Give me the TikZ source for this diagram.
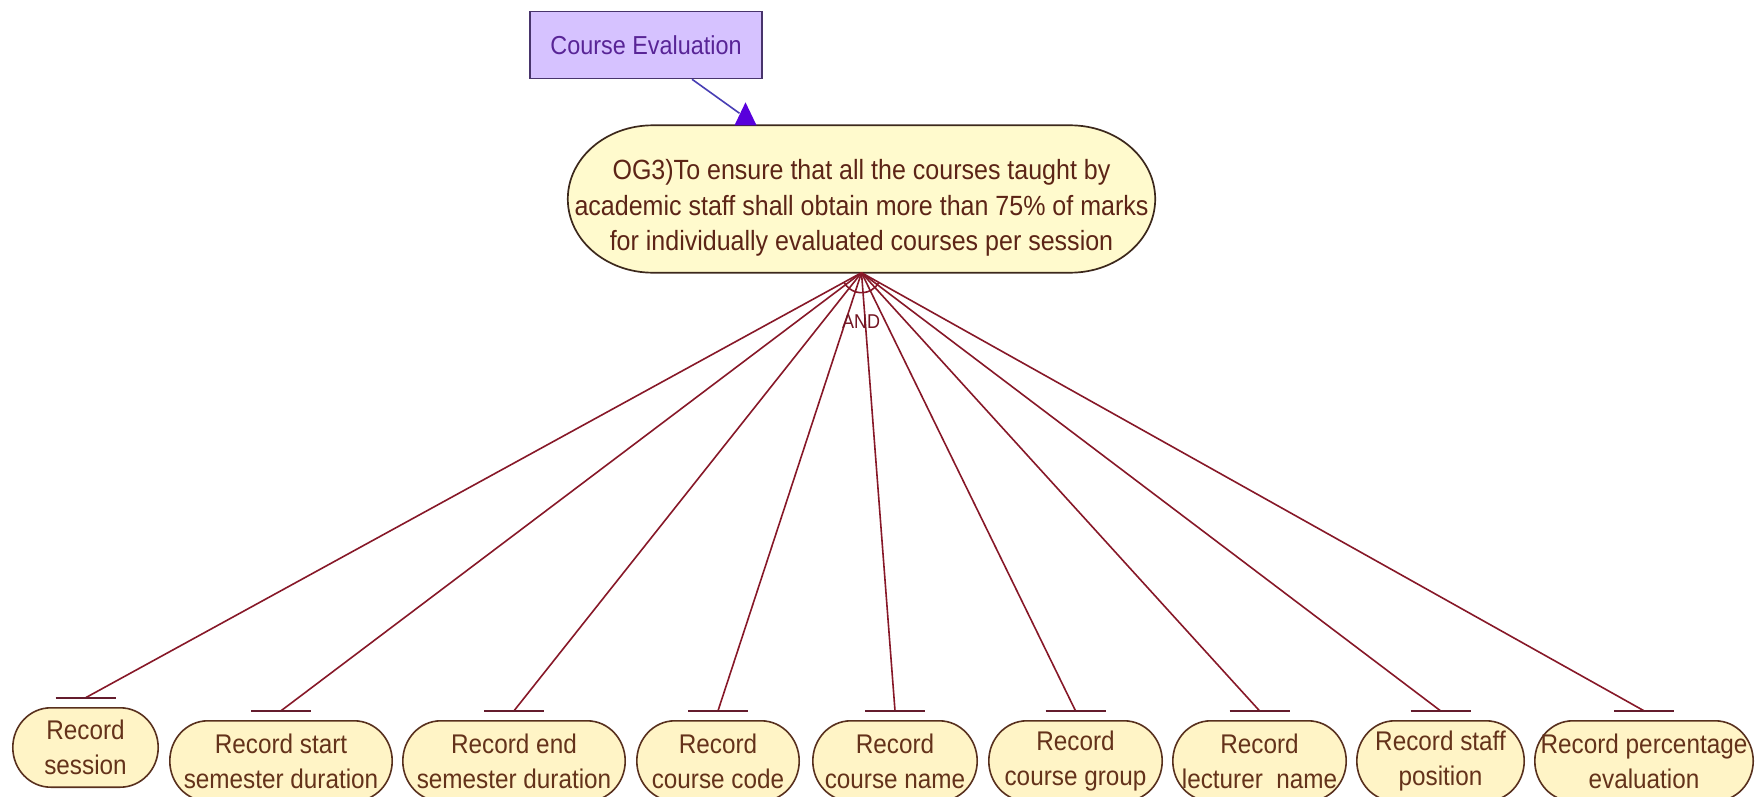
\documentclass[tikz,border=0pt]{standalone}
\usepackage{fontspec}
\setmainfont{Liberation Sans}
\newfontfamily\narrowsans[FakeStretch=0.9]{Liberation Sans}
\usetikzlibrary{calc}
\pgfdeclarelayer{back}
\pgfsetlayers{back,main}

\definecolor{goalfill}{RGB}{255,250,205}
\definecolor{leaffill}{RGB}{255,244,198}
\definecolor{goalline}{RGB}{60,40,28}
\definecolor{leafline}{RGB}{88,48,30}
\definecolor{goaltext}{RGB}{92,36,22}
\definecolor{leaftext}{RGB}{100,50,26}
\definecolor{cefill}{RGB}{214,194,255}
\definecolor{celine}{RGB}{72,52,108}
\definecolor{cetext}{RGB}{88,36,150}
\definecolor{celink}{RGB}{72,62,180}
\definecolor{cehead}{RGB}{88,0,220}
\definecolor{andline}{RGB}{135,24,40}
\definecolor{barline}{RGB}{100,28,45}

\tikzset{
  goalbox/.style={minimum width=587pt, minimum height=147pt, inner sep=0pt},
  goallabel/.style={inner sep=0pt, align=center, text=goaltext,
    font=\narrowsans\fontsize{27.8}{35.5}\selectfont},
  leafbox/.style={minimum height=#1, inner sep=0pt, align=center,
    text=leaftext, font=\narrowsans\fontsize{27}{35}\selectfont},
  goalshape/.style={fill=goalfill, draw=goalline, line width=1.7pt},
  leafshape/.style={fill=leaffill, draw=leafline, line width=1.6pt},
  cebox/.style={draw=celine, fill=cefill, line width=1.5pt,
    minimum width=232pt, minimum height=67pt, inner sep=0pt,
    text=cetext, font=\narrowsans\fontsize{26}{30}\selectfont},
  andlink/.style={draw=andline, line width=1.6pt},
  tbar/.style={draw=barline, line width=2pt},
  celinkline/.style={draw=celink, line width=1.6pt},
  andlabel/.style={text=andline!85!black, inner sep=0pt,
    font=\narrowsans\fontsize{20}{22}\selectfont},
}

% capsule outline with elliptical ends around a node, drawn behind it
\newcommand\capsuleshape[3]{%
  \begin{pgfonlayer}{back}
  \path[#3] let \p1=(#1.north west), \p2=(#1.south east), \n1={(\y1-\y2)/2} in
    (\x1+#2,\y1) -- (\x2-#2,\y1)
    arc[start angle=90,end angle=-90,x radius=#2,y radius=\n1]
    -- (\x1+#2,\y2)
    arc[start angle=270,end angle=90,x radius=#2,y radius=\n1] -- cycle;
  \end{pgfonlayer}}

\begin{document}
\begin{tikzpicture}[x=1pt,y=-1pt]
\useasboundingbox (0,0) rectangle (1758,797);
\begin{pgfonlayer}{back}
  \fill[white] (0,0) rectangle (1758,797);
\end{pgfonlayer}

% soft goal and its source
\node[cebox] (ce) at (646,45) {Course Evaluation};
\node[goalbox] (goal) at (861.5,199) {};
\capsuleshape{goal}{85pt}{goalshape}
\node[goallabel] (goaltxt) at ([yshift=-9pt]goal.center)
  {OG3)To ensure that all the courses taught by\\
   academic staff shall obtain more than 75\% of marks\\
   for individually evaluated courses per session};

% refining tasks (the lower row runs past the bottom edge)
\node[leafbox=79pt, minimum width=145pt] (l1) at (85.5,747.5) {Record\\session};
\node[leafbox=80pt, minimum width=222pt] (l2) at (281,761) {Record start\\semester duration};
\node[leafbox=80pt, minimum width=222pt] (l3) at (514,761) {Record end\\semester duration};
\node[leafbox=80pt, minimum width=162pt] (l4) at (718,761) {Record\\course code};
\node[leafbox=80pt, minimum width=164pt] (l5) at (895,761) {Record\\course name};
\node[leafbox=80pt, minimum width=173pt] (l6) at (1075.5,761) {Record\\course group};
\node[leafbox=80pt, minimum width=173pt] (l7) at (1259.5,761) {Record\\lecturer~ name};
\node[leafbox=80pt, minimum width=167pt] (l8) at (1440.5,761) {Record staff\\position};
\node[leafbox=80pt, minimum width=218pt] (l9) at (1644,761) {Record percentage\\evaluation};
\foreach \lf in {l1,l2,l3,l4,l5,l6,l7,l8,l9}{\capsuleshape{\lf}{38pt}{leafshape}}

% contribution link into the goal
\coordinate (hook) at ([xshift=-116pt]goal.north);
\draw[celinkline] ([xshift=46pt]ce.south) -- ([xshift=-6pt,yshift=12pt]hook);
\fill[cehead] ([xshift=-11pt]hook) -- ([yshift=23pt]hook) -- ([xshift=11pt]hook) -- cycle;

% AND decomposition
\coordinate (j) at (goal.south);
\foreach \lf in {l1,l2,l3,l4,l5,l6,l7,l8,l9}{
  \draw[andlink] (j) -- ([yshift=10pt]\lf.north);
  \draw[tbar] ([xshift=-30pt,yshift=10pt]\lf.north) -- ([xshift=30pt,yshift=10pt]\lf.north);
}
\draw[andlink] (j) ++(-151:20pt) arc[start angle=-151,end angle=-29,radius=20pt];
\node[andlabel] (andtxt) at (861,322) {AND};
\end{tikzpicture}
\end{document}
